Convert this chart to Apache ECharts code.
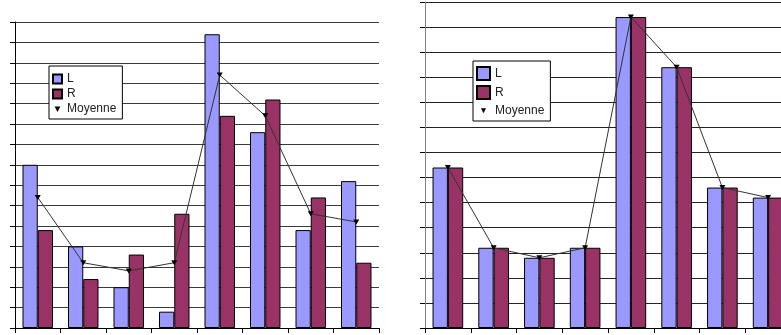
<!DOCTYPE html>
<html>
<head>
<meta charset="utf-8">
<script src="https://cdn.jsdelivr.net/npm/echarts@6/dist/echarts.min.js"></script>
<style>
  html, body { margin: 0; padding: 0; background: #fff; }
  #chart { width: 781px; height: 335px; }
</style>
</head>
<body>
<div id="chart"></div>
<script>
// Eight measurement positions, shown on both panels
const categories = ['1', '2', '3', '4', '5', '6', '7', '8'];

// Left panel: raw left / right values and their mean
const leftL = [8, 4, 2, 0.8, 14.4, 9.6, 4.8, 7.2];
const leftR = [4.8, 2.4, 3.6, 5.6, 10.4, 11.2, 6.4, 3.2];
const leftMean = [6.4, 3.2, 2.8, 3.2, 12.4, 10.4, 5.6, 5.2];

// Right panel: balanced values (L and R both equal to the mean)
const rightL = [6.4, 3.2, 2.8, 3.2, 12.4, 10.4, 5.6, 5.2];
const rightR = [6.4, 3.2, 2.8, 3.2, 12.4, 10.4, 5.6, 5.2];
const rightMean = [6.4, 3.2, 2.8, 3.2, 12.4, 10.4, 5.6, 5.2];

const COLOR_L = '#9999FF';
const COLOR_R = '#993366';
const TRI_DOWN = 'path://M0,0L10,0L5,10Z';
// same triangle, padded with empty space so it renders small inside the legend slot
const TRI_DOWN_SMALL = 'path://M0,0M10,10M1.8,2.2L8.2,2.2L5,8.2Z';
const TRI_DOWN_TINY = 'path://M0,0M10,10M3,3.2L7,3.2L5,7.2Z';
const FONT = 'Liberation Sans, Arial, sans-serif';

function xAxisFor(gridIndex, axisColor) {
  return {
    type: 'category', gridIndex, data: categories, boundaryGap: true,
    axisLine: { lineStyle: { color: axisColor, width: 1 } },
    axisTick: { show: true, length: 5, lineStyle: { color: '#000' } },
    axisLabel: { show: false }
  };
}
function yAxisFor(gridIndex, max, axisColor, gridColor) {
  return {
    type: 'value', gridIndex, min: 0, max, interval: 1,
    axisLine: { show: true, lineStyle: { color: axisColor, width: 1 } },
    axisTick: { show: true, length: 5, lineStyle: { color: '#000' } },
    axisLabel: { show: false },
    splitLine: { show: true, lineStyle: { color: gridColor, width: 1 } }
  };
}
function barSeries(name, data, color, idx) {
  return {
    name, type: 'bar', data, xAxisIndex: idx, yAxisIndex: idx,
    barGap: '0%', barCategoryGap: '33%',
    itemStyle: { color, borderColor: '#000', borderWidth: 1 },
    emphasis: { disabled: true }, z: 2
  };
}
function meanSeries(data, idx) {
  return {
    name: 'Moyenne', type: 'line', data, xAxisIndex: idx, yAxisIndex: idx,
    symbol: TRI_DOWN, symbolSize: [6, 5], showSymbol: true,
    itemStyle: { color: '#000' },
    lineStyle: { color: '#333', width: 1 },
    emphasis: { disabled: true }, z: 5
  };
}
function legendAt(left, top, iconSize, gap, padding, meanIcon) {
  return {
    left, top, orient: 'vertical',
    data: [
      { name: 'L', icon: 'rect' },
      { name: 'R', icon: 'rect' },
      { name: 'Moyenne', icon: meanIcon, itemStyle: { color: '#000', borderWidth: 0 } }
    ],
    itemWidth: iconSize, itemHeight: iconSize, itemGap: gap,
    padding,
    borderColor: '#000', borderWidth: 1, backgroundColor: '#fff',
    textStyle: { fontFamily: FONT, fontSize: 12, color: '#222' },
    selectedMode: false
  };
}

const chart = echarts.init(document.getElementById('chart'), null, { renderer: 'canvas' });
chart.setOption({
  animation: false,
  backgroundColor: '#fff',
  grid: [
    { left: 15, top: 22, width: 364, height: 306, outerBoundsMode: 'none', containLabel: false },
    { left: 425, top: 2, width: 366, height: 326, outerBoundsMode: 'none', containLabel: false }
  ],
  xAxis: [xAxisFor(0, '#000'), xAxisFor(1, '#000')],
  yAxis: [yAxisFor(0, 15, '#000', '#3a3a3a'), yAxisFor(1, 13, '#808080', '#222')],
  legend: [
    legendAt(49, 66, 9, 3, [7, 6, 4, 3], TRI_DOWN_SMALL),
    legendAt(473, 61, 13, 4, [5, 6, 4, 3], TRI_DOWN_TINY)
  ],
  series: [
    barSeries('L', leftL, COLOR_L, 0),
    barSeries('R', leftR, COLOR_R, 0),
    meanSeries(leftMean, 0),
    barSeries('L', rightL, COLOR_L, 1),
    barSeries('R', rightR, COLOR_R, 1),
    meanSeries(rightMean, 1)
  ]
});
</script>
</body>
</html>
